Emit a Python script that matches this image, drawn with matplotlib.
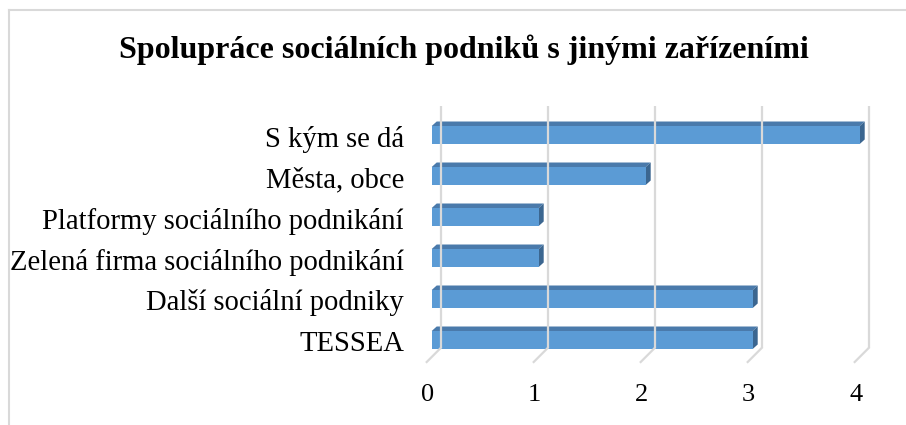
import matplotlib
matplotlib.use("Agg")
import matplotlib.pyplot as plt
from matplotlib.patches import Polygon
from matplotlib.lines import Line2D

# data (bottom to top)
categories = ["TESSEA", "Další sociální podniky", "Zelená firma sociálního podnikání",
              "Platformy sociálního podnikání", "Města, obce", "S kým se dá"]
values = [3, 3, 1, 1, 2, 4]
ticks = [0, 1, 2, 3, 4]
title = "Spolupráce sociálních podniků s jinými zařízeními"

W, H = 906, 425
XS, X0 = 107.0, 431.7   # px per unit, px of value 0 (bar front plane)
YS, Y0 = 41.0, 340.0    # px per category, px of first bar centre

plt.rcParams["font.family"] = ["Liberation Serif", "DejaVu Serif"]

fig = plt.figure(figsize=(W / 100, H / 100), dpi=100)
ax = fig.add_axes([0, 0, 1, 1])
ax.set_xlim(-X0 / XS, (W - X0) / XS)
ax.set_ylim((Y0 - H) / YS, Y0 / YS)
ax.axis("off")


def px(dx):
    return dx / XS


def py(dy):
    # dy in image pixels, downward positive
    return -dy / YS


grid_col = "#D9D9D9"
top_y = (Y0 - 106) / YS
back_bot = (Y0 - 348) / YS
for t in ticks:
    xb = t + px(9)
    ax.plot([xb, xb], [top_y, back_bot], color=grid_col, lw=1.6, solid_capstyle="butt")
    ax.plot([xb, xb + px(-14)], [back_bot, back_bot + py(14)], color=grid_col, lw=1.6)
    ax.text(t + px(-4), (Y0 - 395) / YS, str(t), ha="center", va="center", fontsize=19)

front_col = "#5B9BD5"
top_col = "#4A7AAB"
side_col = "#3B6690"
hh = 9 / YS
ddx, ddy = px(5), 4.5 / YS
for i, (lab, v) in enumerate(zip(categories, values)):
    y0, y1 = i - hh, i + hh
    ax.add_patch(Polygon([(0, y1), (v, y1), (v + ddx, y1 + ddy), (ddx, y1 + ddy)],
                         closed=True, facecolor=top_col, edgecolor="none"))
    ax.add_patch(Polygon([(v, y0), (v + ddx, y0 + ddy), (v + ddx, y1 + ddy), (v, y1)],
                         closed=True, facecolor=side_col, edgecolor="none"))
    ax.add_patch(Polygon([(0, y0), (v, y0), (v, y1), (0, y1)],
                         closed=True, facecolor=front_col, edgecolor="none"))
    ax.text(px(404 - X0), i + py(4), lab, ha="right", va="center", fontsize=20.6)

fig.text(464 / W, 1 - 50 / H, title, ha="center", va="center",
         fontsize=23, fontweight="bold")

# chart frame
fig.add_artist(Line2D([9 / W, 9 / W], [0, 1 - 10 / H], color=grid_col, lw=1.5))
fig.add_artist(Line2D([9 / W, 1], [1 - 10 / H, 1 - 10 / H], color=grid_col, lw=1.5))

fig.savefig("out.png", dpi=100, facecolor="white")
